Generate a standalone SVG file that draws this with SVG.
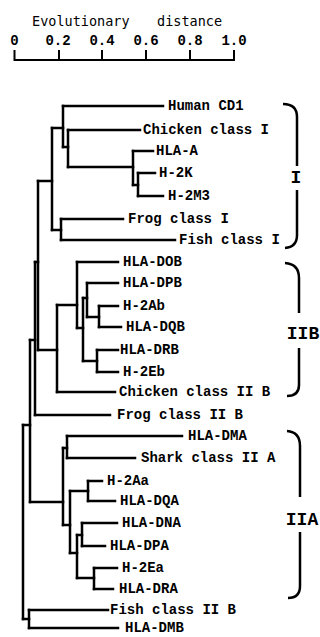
<svg xmlns="http://www.w3.org/2000/svg" width="320" height="637" viewBox="0 0 320 637">
<style>
.bg{fill:#fff}
.ln{fill:none;stroke:#000;stroke-width:2.5;stroke-linecap:square;stroke-linejoin:miter}
.br{fill:none;stroke:#000;stroke-width:2.5;stroke-linecap:butt}
.sc{fill:none;stroke:#000;stroke-width:2}
.lbl{font-family:"Liberation Mono","Courier New",monospace;font-weight:bold;font-size:14px;fill:#000}
.tk{font-family:"Liberation Mono","Courier New",monospace;font-weight:bold;font-size:14px;fill:#000;text-anchor:middle}
.cl{font-family:"Liberation Mono","Courier New",monospace;font-weight:bold;font-size:18px;fill:#000;text-anchor:middle}
.hd{font-family:"DejaVu Sans Mono",monospace;font-size:13.5px;fill:#000}
</style>
<rect class="bg" x="0" y="0" width="320" height="637"/>
<g id="scale">
<text class="hd" y="26"><tspan x="32">Evolutionary</tspan><tspan x="157">distance</tspan></text>
<text class="tk" x="14.5" y="45">0</text>
<text class="tk" x="58" y="45">0.2</text>
<text class="tk" x="102" y="45">0.4</text>
<text class="tk" x="146" y="45">0.6</text>
<text class="tk" x="190" y="45">0.8</text>
<text class="tk" x="234" y="45">1.0</text>
<path class="sc" d="M14.5,50 V60 H234 V50 M59,50 V60 M102,50 V60 M146,50 V60 M190,50 V60"/>
</g>
<g id="connectors">
<path class="ln" d="M52,128 V230 M63,106 V147 M68,130 V167 M133,151 V185 M138,173 V196 M61,219 V240 M38,181 V350 M35,262 V415 M30,340 V502 M23,425 V619 M57,305 V392 M77,262 V328 M83,298 V361 M87,283 V317 M99,306 V327 M97,350 V372 M63,448 V525 M67,436 V458 M70,491 V553 M88,481 V501 M77,535 V578 M82,523 V546 M94,568 V589 M29,610 V628"/>
<path class="ln" d="M52,128 H63 M63,147 H68 M68,167 H133 M133,185 H138 M52,230 H61 M38,181 H52 M35,262 H38 M38,350 H57 M57,305 H77 M77,328 H83 M83,298 H87 M87,317 H99 M83,361 H97 M30,340 H35 M23,425 H30 M30,502 H63 M63,448 H67 M63,525 H70 M70,491 H88 M70,553 H77 M77,535 H82 M77,578 H94 M23,619 H29"/>
<path class="ln" d="M63,106 H163 M68,130 H140 M133,151 H153 M138,173 H155 M138,196 H163 M61,219 H123 M61,240 H175 M77,262 H118 M87,283 H118 M99,306 H118 M99,327 H121 M97,350 H118 M97,372 H118 M57,392 H115 M35,415 H110 M67,436 H182 M67,458 H135 M88,481 H102 M88,501 H115 M82,523 H117 M82,546 H105 M94,568 H117 M94,589 H113 M29,610 H108 M29,628 H118"/>
</g>
<g id="leaf-human-cd1"><text class="lbl" x="168" y="110">Human CD1</text></g>
<g id="leaf-chicken-class-i"><text class="lbl" x="143" y="134">Chicken class I</text></g>
<g id="leaf-hla-a"><text class="lbl" x="156" y="155">HLA-A</text></g>
<g id="leaf-h-2k"><text class="lbl" x="159" y="177">H-2K</text></g>
<g id="leaf-h-2m3"><text class="lbl" x="168" y="200">H-2M3</text></g>
<g id="leaf-frog-class-i"><text class="lbl" x="128" y="223">Frog class I</text></g>
<g id="leaf-fish-class-i"><text class="lbl" x="179" y="244">Fish class I</text></g>
<g id="leaf-hla-dob"><text class="lbl" x="123" y="266">HLA-DOB</text></g>
<g id="leaf-hla-dpb"><text class="lbl" x="123" y="287">HLA-DPB</text></g>
<g id="leaf-h-2ab"><text class="lbl" x="123" y="310">H-2Ab</text></g>
<g id="leaf-hla-dqb"><text class="lbl" x="126" y="331">HLA-DQB</text></g>
<g id="leaf-hla-drb"><text class="lbl" x="120" y="354">HLA-DRB</text></g>
<g id="leaf-h-2eb"><text class="lbl" x="123" y="376">H-2Eb</text></g>
<g id="leaf-chicken-class-iib"><text class="lbl" x="119" y="396">Chicken class II B</text></g>
<g id="leaf-frog-class-iib"><text class="lbl" x="117" y="419">Frog class II B</text></g>
<g id="leaf-hla-dma"><text class="lbl" x="188" y="440">HLA-DMA</text></g>
<g id="leaf-shark-class-iia"><text class="lbl" x="141" y="462">Shark class II A</text></g>
<g id="leaf-h-2aa"><text class="lbl" x="107" y="485">H-2Aa</text></g>
<g id="leaf-hla-dqa"><text class="lbl" x="120" y="505">HLA-DQA</text></g>
<g id="leaf-hla-dna"><text class="lbl" x="122" y="527">HLA-DNA</text></g>
<g id="leaf-hla-dpa"><text class="lbl" x="110" y="550">HLA-DPA</text></g>
<g id="leaf-h-2ea"><text class="lbl" x="122" y="572">H-2Ea</text></g>
<g id="leaf-hla-dra"><text class="lbl" x="119" y="593">HLA-DRA</text></g>
<g id="leaf-fish-class-iib"><text class="lbl" x="110" y="614">Fish class II B</text></g>
<g id="leaf-hla-dmb"><text class="lbl" x="125" y="632">HLA-DMB</text></g>
<g id="clade-i">
<path class="br" d="M283,104 Q297,104 297,117 V166 M297,190 V235 Q297,247 285,248"/>
<text class="cl" x="296" y="183">I</text>
</g>
<g id="clade-iib">
<path class="br" d="M285,263 Q299,264 299,278 V313 M299,348 V385 Q299,396 287,396"/>
<text class="cl" x="303" y="339">IIB</text>
</g>
<g id="clade-iia">
<path class="br" d="M287,431 Q300,432 300,446 V497 M300,532 V586 Q300,598 288,598"/>
<text class="cl" x="302" y="525">IIA</text>
</g>
</svg>
